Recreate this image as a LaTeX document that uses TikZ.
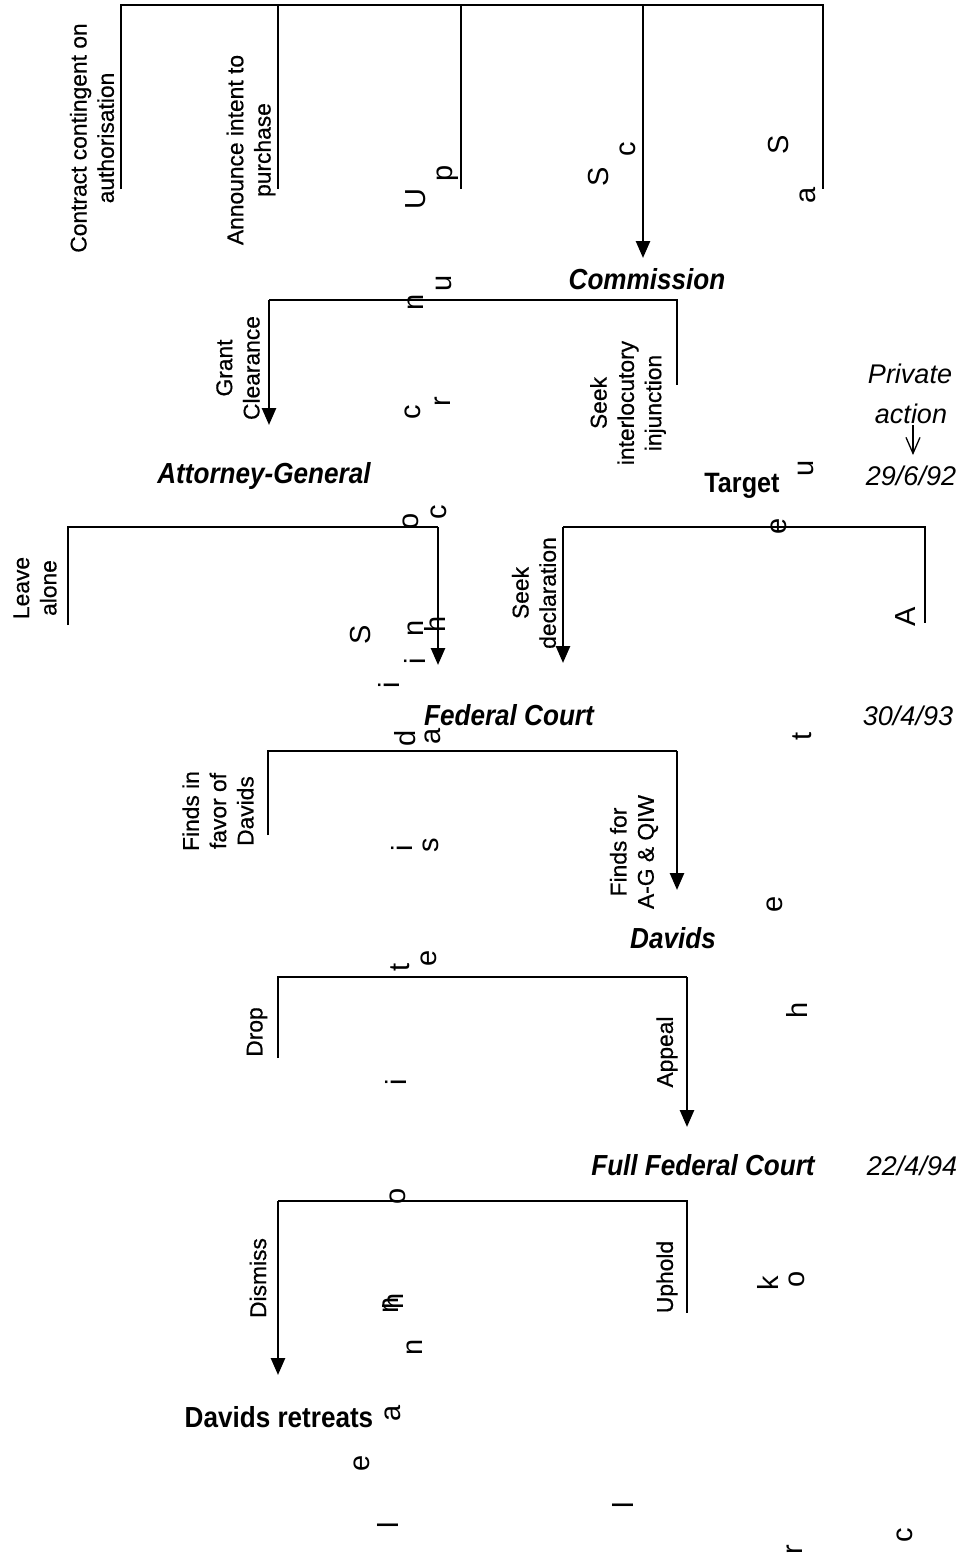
\documentclass[tikz,border=0pt]{standalone}
\usepackage{fontspec}
\setmainfont{Liberation Sans}
\newfontfamily\condfont[FakeStretch=0.9]{Liberation Sans}
\newfontfamily\labfont[FakeBold=0.6]{Liberation Sans}
\usetikzlibrary{arrows.meta}
\tikzset{
  branch/.style={line width=2.6pt},
  arr/.style={branch, -{Triangle[length=17pt,width=14pt]}},
  thinarr/.style={line width=1.3pt, -{Straight Barb[length=16pt,width=14pt]}},
  lab/.style={rotate=90, align=center, inner sep=0pt, font=\labfont\fontsize{22.8}{27.3}\selectfont},
  frag/.style={rotate=90, inner sep=0pt, font=\fontsize{29}{30}\selectfont},
  actor/.style={anchor=base, inner sep=0pt, font=\condfont\bfseries\itshape\fontsize{29}{30}\selectfont},
  plainactor/.style={anchor=base, inner sep=0pt, font=\condfont\bfseries\fontsize{28}{30}\selectfont},
  date/.style={anchor=base, inner sep=0pt, font=\itshape\fontsize{27}{30}\selectfont},
}
\begin{document}
\begin{tikzpicture}[x=1pt,y=-1pt]
\useasboundingbox (0,0) rectangle (965,1558);
% ---- actors ----
\node[actor] (comm) at (647,289) {Commission};
\node[actor] (ag) at (264,483) {Attorney-General};
\node[plainactor] (target) at (742,492) {Target};
\node[actor] (fc) at (509,725) {Federal Court};
\node[actor] (davids) at (673,948) {Davids};
\node[actor] (ffc) at (703,1175) {Full Federal Court};
\node[plainactor, font=\condfont\bfseries\fontsize{29}{30}\selectfont] (retreat) at (279,1427) {Davids retreats};
% ---- dates ----
\node[date] (privA) at (910,383) {Private};
\node[date] (privB) at (911,423) {action};
\node[date] (d1) at (911,485) {29/6/92};
\node[date] (d2) at (908,725) {30/4/93};
\node[date] (d3) at (912,1175) {22/4/94};
\coordinate (pa1) at (913,425);
\coordinate (pa2) at (913,455);
\draw[thinarr] (pa1) -- (pa2);
% ---- level 1 ----
\coordinate (a1) at (121,5); \coordinate (a1e) at (121,189);
\coordinate (a2) at (278,5); \coordinate (a2e) at (278,189);
\coordinate (a3) at (461,5); \coordinate (a3e) at (461,189);
\coordinate (a4) at (643,5); \coordinate (a4e) at (643,258);
\coordinate (a5) at (823,5); \coordinate (a5e) at (823,189);
\draw[branch] (a1e) -- (a1) -- (a5) -- (a5e);
\draw[branch] (a2) -- (a2e);
\draw[branch] (a3) -- (a3e);
\draw[arr] (a4) -- (a4e);
% ---- level 2 ----
\coordinate (b1) at (269,300); \coordinate (b1e) at (269,425);
\coordinate (b2) at (677,300); \coordinate (b2e) at (677,385);
\draw[branch] (b1) -- (b2) -- (b2e);
\draw[arr] (b1) -- (b1e);
% ---- level 3 left ----
\coordinate (c1) at (68,527); \coordinate (c1e) at (68,625);
\coordinate (c2) at (438,527); \coordinate (c2e) at (438,665);
\draw[branch] (c1e) -- (c1) -- (c2);
\draw[arr] (c2) -- (c2e);
% ---- level 3 right ----
\coordinate (e1) at (563,527); \coordinate (e1e) at (563,663);
\coordinate (e2) at (925,527); \coordinate (e2e) at (925,623);
\draw[branch] (e1) -- (e2) -- (e2e);
\draw[arr] (e1) -- (e1e);
% ---- level 4 ----
\coordinate (f1) at (268,751); \coordinate (f1e) at (268,835);
\coordinate (f2) at (677,751); \coordinate (f2e) at (677,890);
\draw[branch] (f1e) -- (f1) -- (f2);
\draw[arr] (f2) -- (f2e);
% ---- level 5 ----
\coordinate (g1) at (278,977); \coordinate (g1e) at (278,1058);
\coordinate (g2) at (687,977); \coordinate (g2e) at (687,1127);
\draw[branch] (g1e) -- (g1) -- (g2);
\draw[arr] (g2) -- (g2e);
% ---- level 6 ----
\coordinate (h1) at (278,1201); \coordinate (h1e) at (278,1375);
\coordinate (h2) at (687,1201); \coordinate (h2e) at (687,1313);
\draw[branch] (h1) -- (h2) -- (h2e);
\draw[arr] (h1) -- (h1e);
% ---- branch labels ----
\node[lab] (l1) at (92,138) {Contract contingent on\\authorisation};
\node[lab] (l2) at (251,150) {Announce intent to\\purchase};
\node[lab] (l3) at (238,368) {Grant\\Clearance};
\node[lab] (l4) at (628,403) {Seek\\interlocutory\\injunction};
\node[lab] (l5) at (35,588) {Leave\\alone};
\node[lab] (l6) at (534,593) {Seek\\declaration};
\node[lab] (l7) at (218,811) {Finds in\\favor of\\Davids};
\node[lab] (l8) at (634,852) {Finds for\\A-G \& QIW};
\node[lab] (l9) at (257,1032) {Drop};
\node[lab] (l10) at (667,1052) {Appeal};
\node[lab] (l11) at (258,1278) {Dismiss};
\node[lab] (l12) at (667,1277) {Uphold};
% ---- stray letters ----
\node[frag] (s1) at (416,199) {U};
\node[frag] (s2) at (448,173) {p};
\node[frag] (s3) at (444,283) {u};
\node[frag] (s4) at (628,149) {c};
\node[frag] (s5) at (599,177) {S};
\node[frag] (s6) at (779,145) {S};
\node[frag] (s7) at (808,195) {a};
\node[frag] (s8) at (416,302) {n};
\node[frag] (s9) at (413,412) {c};
\node[frag] (s10) at (443,402) {r};
\node[frag] (s11) at (411,521) {o};
\node[frag] (s12) at (439,512) {c};
\node[frag] (s13) at (361,635) {S};
\node[frag] (s14) at (416,628) {n};
\node[frag] (s15) at (435,624) {h};
\node[frag] (s16) at (415,661) {i};
\node[frag] (s17) at (389,685) {i};
\node[frag] (s18) at (405,738) {d};
\node[frag] (s19) at (433,736) {a};
\node[frag] (s20) at (802,736) {t};
\node[frag] (s21) at (402,848) {i};
\node[frag] (s22) at (431,845) {s};
\node[frag] (s23) at (775,904) {e};
\node[frag] (s24) at (400,967) {t};
\node[frag] (s25) at (429,958) {e};
\node[frag] (s26) at (797,1010) {h};
\node[frag] (s27) at (396,1082) {i};
\node[frag] (s28) at (398,1196) {o};
\node[frag] (s29) at (391,1305) {n};
\node[frag] (s30) at (393,1301) {h};
\node[frag] (s31) at (415,1347) {n};
\node[frag] (s32) at (393,1413) {a};
\node[frag] (s33) at (362,1463) {e};
\node[frag] (s34) at (388,1525) {l};
\node[frag] (s35) at (768,1283) {k};
\node[frag] (s36) at (797,1279) {o};
\node[frag] (s37) at (623,1505) {l};
\node[frag] (s38) at (795,1550) {r};
\node[frag] (s39) at (905,1535) {c};
\node[frag] (s40) at (906,617) {A};
\node[frag] (s41) at (806,468) {u};
\node[frag] (s42) at (779,526) {e};
\end{tikzpicture}
\end{document}
